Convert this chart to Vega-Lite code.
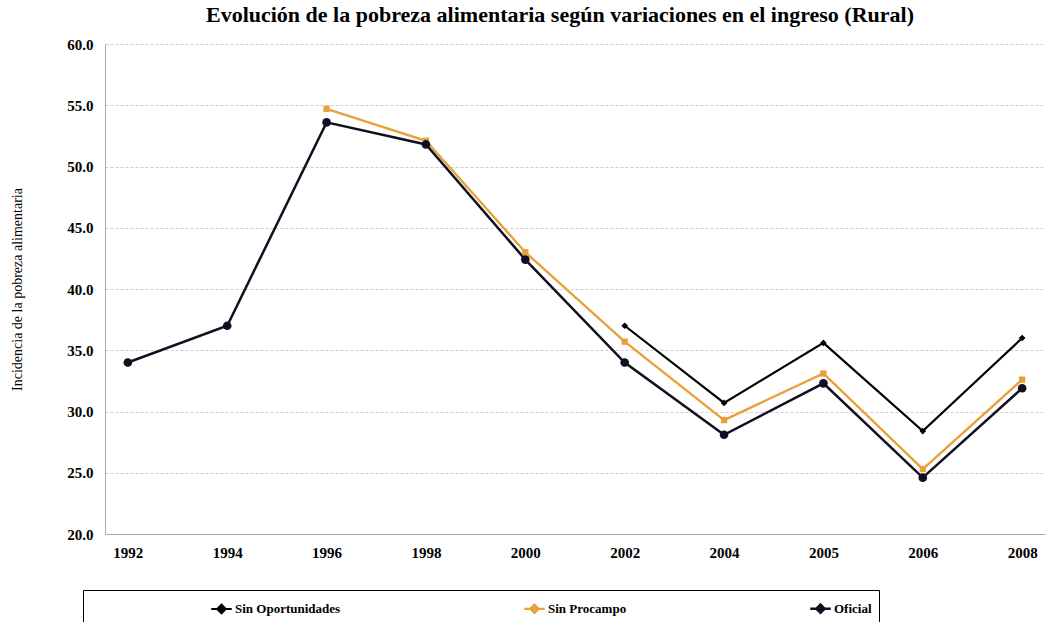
{
  "$schema": "https://vega.github.io/schema/vega-lite/v6.json",
  "autosize": {"type": "none"},
  "width": 940,
  "height": 490,
  "padding": {"left": 105, "top": 44, "right": 17, "bottom": 88},
  "title": {
    "text": "Evolución de la pobreza alimentaria según variaciones en el ingreso (Rural)",
    "font": "Liberation Serif",
    "fontSize": 22,
    "fontWeight": "bold",
    "color": "#000000",
    "anchor": "middle",
    "dx": -15,
    "offset": 10
  },
  "config": {
    "view": {"stroke": null},
    "font": "Liberation Serif"
  },
  "data": {
    "values": [
      {"year": "1992", "serie": "Oficial", "valor": 34.0},
      {"year": "1994", "serie": "Oficial", "valor": 37.0},
      {"year": "1996", "serie": "Oficial", "valor": 53.6},
      {"year": "1998", "serie": "Oficial", "valor": 51.8},
      {"year": "2000", "serie": "Oficial", "valor": 42.4},
      {"year": "2002", "serie": "Oficial", "valor": 34.0},
      {"year": "2004", "serie": "Oficial", "valor": 28.1},
      {"year": "2005", "serie": "Oficial", "valor": 32.3},
      {"year": "2006", "serie": "Oficial", "valor": 24.6},
      {"year": "2008", "serie": "Oficial", "valor": 31.9},
      {"year": "1996", "serie": "Sin Procampo", "valor": 54.7},
      {"year": "1998", "serie": "Sin Procampo", "valor": 52.1},
      {"year": "2000", "serie": "Sin Procampo", "valor": 43.0},
      {"year": "2002", "serie": "Sin Procampo", "valor": 35.7},
      {"year": "2004", "serie": "Sin Procampo", "valor": 29.3},
      {"year": "2005", "serie": "Sin Procampo", "valor": 33.1},
      {"year": "2006", "serie": "Sin Procampo", "valor": 25.3},
      {"year": "2008", "serie": "Sin Procampo", "valor": 32.6},
      {"year": "2002", "serie": "Sin Oportunidades", "valor": 37.0},
      {"year": "2004", "serie": "Sin Oportunidades", "valor": 30.7},
      {"year": "2005", "serie": "Sin Oportunidades", "valor": 35.6},
      {"year": "2006", "serie": "Sin Oportunidades", "valor": 28.4},
      {"year": "2008", "serie": "Sin Oportunidades", "valor": 36.0}
    ]
  },
  "encoding": {
    "x": {
      "field": "year",
      "type": "ordinal",
      "sort": null,
      "scale": {"type": "point", "padding": 0.23},
      "axis": {
        "title": null,
        "labelAngle": 0,
        "labelFont": "Liberation Serif",
        "labelFontSize": 15,
        "labelFontWeight": "bold",
        "labelColor": "#000000",
        "labelPadding": 11,
        "ticks": false,
        "domainColor": "#aaaaaa",
        "grid": false
      }
    },
    "y": {
      "field": "valor",
      "type": "quantitative",
      "scale": {"domain": [20, 60], "nice": false, "zero": false},
      "axis": {
        "title": "Incidencia de la pobreza alimentaria",
        "titleFont": "Liberation Serif",
        "titleFontSize": 14,
        "titleFontWeight": "normal",
        "titleColor": "#000000",
        "titlePadding": 42,
        "values": [20, 25, 30, 35, 40, 45, 50, 55, 60],
        "format": ".1f",
        "labelFont": "Liberation Serif",
        "labelFontSize": 15,
        "labelFontWeight": "bold",
        "labelColor": "#000000",
        "labelPadding": 12,
        "ticks": false,
        "domainColor": "#aaaaaa",
        "gridColor": "#cfcfcf",
        "gridDash": [3, 2]
      }
    },
    "color": {
      "field": "serie",
      "type": "nominal",
      "scale": {
        "domain": ["Sin Oportunidades", "Sin Procampo", "Oficial"],
        "range": ["#000000", "#E8A13A", "#101022"]
      },
      "legend": null
    }
  },
  "layer": [
    {
      "mark": {"type": "line"},
      "encoding": {
        "color": {
          "field": "serie",
          "type": "nominal",
          "legend": {
            "title": null,
            "orient": "none",
            "direction": "horizontal",
            "columns": 3,
            "legendX": -22,
            "legendY": 546,
            "padding": 7,
            "strokeColor": "#000000",
            "symbolType": "M-1,0H1M0,-0.4L0.4,0L0,0.4L-0.4,0Z",
            "symbolSize": 420,
            "symbolStrokeWidth": 2,
            "symbolOffset": 120,
            "columnPadding": 62,
            "labelFont": "Liberation Serif",
            "labelFontSize": 13,
            "labelFontWeight": "bold",
            "labelColor": "#000000",
            "labelOffset": 2,
            "encode": {
              "symbols": {
                "update": {
                  "fill": {"scale": "color", "field": "value"}
                }
              }
            }
          }
        },
        "strokeWidth": {
          "field": "serie",
          "type": "nominal",
          "scale": {
            "domain": ["Sin Oportunidades", "Sin Procampo", "Oficial"],
            "range": [2.2, 2.5, 3]
          },
          "legend": null
        }
      }
    },
    {
      "transform": [{"filter": "datum.serie === 'Sin Oportunidades'"}],
      "mark": {"type": "point", "filled": true, "opacity": 1, "shape": "diamond", "size": 45}
    },
    {
      "transform": [{"filter": "datum.serie === 'Sin Procampo'"}],
      "mark": {"type": "point", "filled": true, "opacity": 1, "shape": "square", "size": 40}
    },
    {
      "transform": [{"filter": "datum.serie === 'Oficial'"}],
      "mark": {"type": "point", "filled": true, "opacity": 1, "shape": "circle", "size": 75}
    }
  ]
}
